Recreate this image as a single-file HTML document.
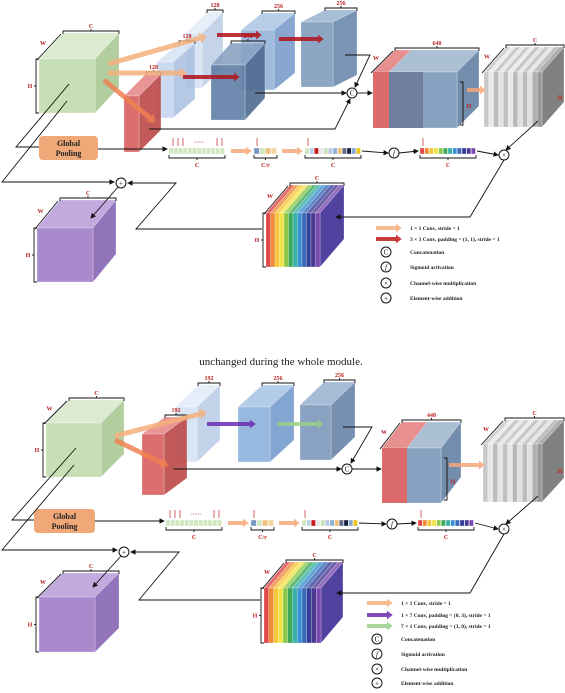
<!DOCTYPE html>
<html><head><meta charset="utf-8">
<style>
html,body{margin:0;padding:0;background:#fff;}
svg{display:block;font-family:"Liberation Serif",serif;}
</style></head>
<body>
<svg id="fig" width="565" height="693" viewBox="0 0 565 693" xmlns="http://www.w3.org/2000/svg">
<defs>
<marker id="ah" markerWidth="6" markerHeight="6" refX="5" refY="3" orient="auto"><path d="M0,0 L6,3 L0,6 z" fill="#111"/></marker>
</defs>
<text x="281" y="365" text-anchor="middle" font-size="11" fill="#222">unchanged during the whole module.</text>
</svg>
<script>
const NS='http://www.w3.org/2000/svg';
const svg=document.getElementById('fig');
function el(tag,attrs,parent){const e=document.createElementNS(NS,tag);for(const k in attrs)e.setAttribute(k,attrs[k]);(parent||svg).appendChild(e);return e;}
function grp(name){const g=el('g',{});


return g;}
function poly(g,pts,fill,op){return el('polygon',{points:pts.map(p=>p.join(',')).join(' '),fill:fill,'fill-opacity':op||1,stroke:'rgba(255,255,255,0.5)','stroke-width':0.5},g);}
function cube(name,x,y,w,h,dx,dy,front,top,side,op){
  const g=grp(name);
  poly(g,[[x,y],[x+dx,y+dy],[x+w+dx,y+dy],[x+w,y]],top,op);
  poly(g,[[x+w,y],[x+w+dx,y+dy],[x+w+dx,y+h+dy],[x+w,y+h]],side,op);
  poly(g,[[x,y],[x+w,y],[x+w,y+h],[x,y+h]],front,op);
  return g;
}
function txt(name,x,y,s,size,color,weight,anchor){
  const t=el('text',{x:x,y:y,'font-size':size||6,fill:color||'#b22','font-weight':weight||'bold','text-anchor':anchor||'middle'});
  t.textContent=s;
  
  
  return t;
}
function line(pts,arrow,color,w){
  const p=el('polyline',{points:pts.map(p=>p.join(',')).join(' '),fill:'none',stroke:color||'#111','stroke-width':w||0.9});
  if(arrow)p.setAttribute('marker-end','url(#ah)');
  
  
  return p;
}
function fatArrow(name,x1,y1,x2,y2,color,w){
  const l=el('line',{x1:x1,y1:y1,x2:x2,y2:y2,stroke:color,'stroke-width':w||4,'stroke-opacity':0.85});
  
  
  const a=Math.atan2(y2-y1,x2-x1),s=(w||4)*1.1;
  const p=el('polygon',{points:[[x2+Math.cos(a)*s*1.3,y2+Math.sin(a)*s*1.3],[x2+Math.cos(a+Math.PI/2)*s,y2+Math.sin(a+Math.PI/2)*s],[x2+Math.cos(a-Math.PI/2)*s,y2+Math.sin(a-Math.PI/2)*s]].map(p=>p.join(',')).join(' '),fill:color,'fill-opacity':0.85});
  
  
}
function circ(name,x,y,sym){
  const g=grp(name);
  el('circle',{cx:x,cy:y,r:5,fill:'#fff',stroke:'#111','stroke-width':1},g);
  const t=el('text',{x:x,y:y+2.5,'font-size':7,'text-anchor':'middle',fill:'#111','font-style':sym==='f'?'italic':'normal'},g);
  t.textContent=sym;
}
function bracketTop(x1,x2,y,label){ // horizontal brace above
  line([[x1,y+3],[x1,y],[x2,y],[x2,y+3]]);
  line([[(x1+x2)/2,y],[(x1+x2)/2,y-2]]);
  if(label)txt('channel-label',(x1+x2)/2,y-3,label,6);
}
function bracketBot(x1,x2,y,label){
  line([[x1,y-3],[x1,y],[x2,y],[x2,y-3]]);
  line([[(x1+x2)/2,y],[(x1+x2)/2,y+2]]);
  if(label)txt('channel-label',(x1+x2)/2,y+9,label,6);
}
function bracketLeft(x,y1,y2,label){
  line([[x+3,y1],[x,y1],[x,y2],[x+3,y2]]);
  line([[x,(y1+y2)/2],[x-2,(y1+y2)/2]]);
  if(label)txt('h-label',x-6,(y1+y2)/2+2,label,6);
}
function bracketDiag(x,y,dx,dy,label){
  line([[x-2,y+1],[x-2+dx,y+dy+1]]);
  if(label)txt('w-label',x+dx/2-8,y+dy/2-1,label,6);
}
function stack(name,x,y,w,h,dx,dy,colors,sideCol){
  const g=grp(name);
  const n=colors.length,sw=w/n;
  poly(g,[[x+w,y],[x+w+dx,y+dy],[x+w+dx,y+h+dy],[x+w,y+h]],sideCol,0.95);
  for(let i=0;i<n;i++){
    const x0=x+i*sw;
    poly(g,[[x0,y],[x0+dx,y+dy],[x0+sw+dx,y+dy],[x0+sw,y]],colors[i],0.8);
    el('rect',{x:x0,y:y,width:sw,height:h,fill:colors[i],stroke:'rgba(255,255,255,0.6)','stroke-width':0.4},g);
  }
}
function vec(name,x,y,w,colors){
  const g=grp(name);const n=colors.length,sw=w/n;
  for(let i=0;i<n;i++){el('rect',{x:x+i*sw,y:y-3,width:sw-0.5,height:6,fill:colors[i],stroke:'#fff','stroke-width':0.3},g);}
}
function pooling(x,y,w,h){
  const g=grp('global-pooling-box');
  el('rect',{x:x,y:y,width:w,height:h,rx:4,fill:'#f0a878'},g);
  const t1=el('text',{x:x+w/2,y:y+h/2-2,'font-size':8,'font-weight':'bold','text-anchor':'middle',fill:'#222'},g);t1.textContent='Global';
  const t2=el('text',{x:x+w/2,y:y+h/2+8,'font-size':8,'font-weight':'bold','text-anchor':'middle',fill:'#222'},g);t2.textContent='Pooling';
}
const rainbow=['#e04848','#ee8a3a','#f6c73a','#f2e24a','#8cc84a','#3ea85a','#3ab0a8','#3a90d0','#3a6ab8','#34409a','#4a3a90','#7a4ab0'];
const greens=Array(12).fill('#cfe6bf');
const greys=['#c8c8c8','#e8e8e8','#bcbcbc','#e4e4e4','#c0c0c0','#e8e8e8','#b8b8b8','#e0e0e0','#bcbcbc','#e0e0e0','#b0b0b0','#9a9a9a'];
const mixC=['#cfe6bf','#b8d0e8','#c81818','#e8e8e8','#c8e0b8','#b8c8e0','#8ab0d8','#f0c070','#606a8a','#1a2040','#88a8d0','#f0c020'];
const crV=['#7a98c0','#cfe6bf','#f0c080','#f0d8a0'];
const legendOrange='#f4b07c', legendRed='#c01818', legendPurple='#6a2ab0', legendGreen='#9ad08a';

function module(o, top){
  // green input cube
  cube('input-cube',o.g[0],o.g[1],o.g[2],o.g[3],o.g[4],o.g[5],'#c7dfb5','#dcebd0','#b2cd9e');
  bracketTop(o.g[0]+o.g[4],o.g[0]+o.g[2]+o.g[4],o.g[1]+o.g[5]-2,'C');
  bracketDiag(o.g[0],o.g[1],o.g[4],o.g[5],'W');
  bracketLeft(o.g[0]-3,o.g[1],o.g[1]+o.g[3],'H');
  // branch blocks
  o.blocks.forEach(b=>{
    cube(b.name,b.r[0],b.r[1],b.r[2],b.r[3],b.r[4],b.r[5],b.c[0],b.c[1],b.c[2],b.op||0.9);
    bracketTop(b.r[0]+b.r[4],b.r[0]+b.r[2]+b.r[4],b.r[1]+b.r[5]-2,b.label);
  });
  o.arrows.forEach(a=>fatArrow(a[0],a[1],a[2],a[3],a[4],a[5],a[6]));
  // concat block
  const k=o.cat;
  cube('concat-block',k[0],k[1],k[2],k[3],k[4],k[5],'#7f9dbd','#a8bdd3','#6c88a8',0.95);
  const g=grp('concat-red-part');
  poly(g,[[k[0],k[1]],[k[0]+k[4],k[1]+k[5]],[k[0]+o.catRed+k[4],k[1]+k[5]],[k[0]+o.catRed,k[1]]],'#e89090');
  el('rect',{x:k[0],y:k[1],width:o.catRed,height:k[3],fill:'#dc6b6b'},g);
  if(o.catMid){el('rect',{x:k[0]+o.catRed,y:k[1],width:o.catMid,height:k[3],fill:'#6a7696','fill-opacity':0.8},g);}
  bracketTop(k[0]+k[4],k[0]+k[2]+k[4],k[1]+k[5]-2,o.catLabel);
  bracketDiag(k[0],k[1],k[4],k[5],'W');
  line([[k[0]+k[2]+3,k[1]+10],[k[0]+k[2]+6,k[1]+10],[k[0]+k[2]+6,k[1]+k[3]-3],[k[0]+k[2]+3,k[1]+k[3]-3]]);
  txt('h-label',k[0]+k[2]+12,k[1]+k[3]/2+8,'H',6);
  // grey stack
  const s=o.grey;
  stack('scaled-feature-stack',s[0],s[1],s[2],s[3],s[4],s[5],greys,'#7a7a7a');
  bracketTop(s[0]+s[4],s[0]+s[2]+s[4],s[1]+s[5]-2,'C');
  bracketDiag(s[0],s[1],s[4],s[5],'W');
  txt('h-label',s[0]+s[2]+s[4]-4,s[1]+s[3]/2,'H',6);
  fatArrow('conv1x1-arrow-to-stack',k[0]+k[2]+k[4]-12,o.toGrey,s[0]-4,o.toGrey,'#f4a878',4);
  // pooling and vectors
  pooling(...o.pool);
  const vy=o.vy;
  vec('pooled-vector',o.v1,vy,56,greens);
  vec('reduced-vector',o.v2,vy,23,crV);
  vec('expanded-vector',o.v3,vy,56,mixC);
  vec('weight-vector',o.v4,vy,56,rainbow);
  bracketBot(o.v1,o.v1+56,vy+7,'C');
  bracketBot(o.v2,o.v2+23,vy+7,'C/r');
  bracketBot(o.v3,o.v3+56,vy+7,'C');
  bracketBot(o.v4,o.v4+56,vy+7,'C');
  [o.v1+4,o.v1+9,o.v1+14,o.v1+48,o.v1+53,o.v2+3,o.v3+3,o.v4+3].forEach(x=>{line([[x,vy-13],[x,vy-5]],false,'#b22',0.7);});
  txt('ellipsis',o.v1+30,vy-7,'······',5);
  fatArrow('fc-arrow-1',o.v1+62,vy,o.v2-8,vy,'#f4a878',4);
  fatArrow('fc-arrow-2',o.v2+28,vy,o.v3-8,vy,'#f4a878',4);
  line([[o.pool[0]+o.pool[2],vy-2],[o.v1-2,vy-2]],true);
  line([[o.v3+57,vy],[o.fc[0]-6,o.fc[1]]],true);
  circ('sigmoid-node',o.fc[0],o.fc[1],'f');
  line([[o.fc[0]+5,o.fc[1]],[o.v4-2,vy]],true);
  line([[o.v4+57,vy],[o.mul[0]-6,o.mul[1]]],true);
  circ('multiply-node',o.mul[0],o.mul[1],'×');
  line([[s[0]+s[2]-4,s[1]+s[3]-6],[o.mul[0]+2,o.mul[1]-5]],true);
  // rainbow
  const r=o.rb;
  stack('recalibrated-feature-stack',r[0],r[1],r[2],r[3],r[4],r[5],rainbow,'#48389a');
  bracketTop(r[0]+r[4],r[0]+r[2]+r[4],r[1]+r[5]-2,'C');
  bracketDiag(r[0],r[1],r[4],r[5],'W');
  bracketLeft(r[0]-3,r[1],r[1]+r[3],'H');
  line([[o.mul[0],o.mul[1]+5],[o.mul[0]-34,o.rbIn],[r[0]+r[2]+16,o.rbIn]],true);
  // purple output
  const p=o.pur;
  cube('output-cube',p[0],p[1],p[2],p[3],p[4],p[5],'#a98acd','#c2aadf','#9274ba');
  bracketTop(p[0]+p[4],p[0]+p[2]+p[4],p[1]+p[5]-2,'C');
  bracketDiag(p[0],p[1],p[4],p[5],'W');
  bracketLeft(p[0]-3,p[1],p[1]+p[3],'H');
  circ('add-node',o.add[0],o.add[1],'+');
  line([[o.add[0]-3,o.add[1]+4],[p[0]+p[2]-2,p[1]-10]],true);
  line([[r[0]-4,o.rbOut],[o.rbOut2,o.rbOut],[o.rbOut2+40,o.add[1]],[o.add[0]+7,o.add[1]]],true);
  // skip lines from input
  line([[o.g[0]+30,o.g[1]+25],[o.skip1[0],o.skip1[1]],[o.pool[0],o.skip1[1]]],false);
  line([[o.g[0]+28,o.g[1]+42],[o.skip2[0],o.skip2[1]],[o.add[0]-7,o.skip2[1]]],true);
  // concat lines
  o.catLines.forEach(l=>line(l,true));
  circ('concat-node',o.cc[0],o.cc[1],'C');
  line([[o.cc[0]+5,o.cc[1]],[k[0]-1,o.cc[1]]],true);
  // legend
  const L=grp('legend');
  o.legend.forEach((it,i)=>{
    const y=o.ly[i];
    if(it[0]==='arrow'){fatArrow('legend-arrow',o.lx,y,o.lx+20,y,it[1],4);}
    else{circ('legend-symbol',o.lx+10,y,it[1]);}
    const t=el('text',{x:o.lt,y:y+2,'font-size':5.5,'font-weight':'bold',fill:'#222'},L);t.textContent=it[2];
  });
}

module({
  g:[39,59,56,54,24,-26],
  blocks:[
    {name:'branch-top-128',r:[186,33,16,55,21,-21],c:['#d2e0f2','#e2ecf8','#bccde6'],label:'128',op:0.85},
    {name:'branch-top-256a',r:[241,30,33,60,21,-17],c:['#94b4da','#b0c8e6','#7c9ccc'],label:'256'},
    {name:'branch-top-256b',r:[301,22,32,65,24,-12],c:['#7f9cbe','#9fb6d2','#6a88ac'],label:'256'},
    {name:'branch-mid-128',r:[157,62,16,56,22,-19],c:['#c2d4ee','#d6e3f4','#a8bee0'],label:'128',op:0.85},
    {name:'branch-mid-256',r:[211,65,34,55,20,-22],c:['#5f7ea6','#8aa2c2','#4e6a90'],label:'256'},
    {name:'branch-red-128',r:[124,96,15,56,22,-22],c:['#d85e5e','#e88a8a','#bb4848'],label:'128'}
  ],
  arrows:[['conv1x1-arrow-a',108,64,200,38,'#f4b07c',5],['conv1x1-arrow-b',108,73,180,73,'#f4b07c',5],['conv1x1-arrow-c',104,80,150,118,'#f08050',5],
          ['conv3x3-arrow-a',183,77,234,77,'#b0101a',4],['conv3x3-arrow-b',217,35,256,35,'#b0101a',4],['conv3x3-arrow-c',279,39,318,39,'#b0101a',4]],
  cat:[373,72,84,56,22,-22],catRed:16,catMid:34,catLabel:'640',
  grey:[484,72,58,55,22,-25],toGrey:90,
  pool:[39,136,59,24],vy:151,v1:169,v2:254,v3:305,v4:420,fc:[394,153],mul:[504,155],
  rb:[266,213,54,54,24,-28],rbIn:217,rbOut:229,rbOut2:136,
  pur:[37,228,56,54,23,-28],add:[121,183],
  skip1:[16,147],skip2:[2,182],
  cc:[352,93],
  catLines:[[[345,55],[370,55],[355,87]],[[255,93],[346,93]],[[149,129],[335,129],[350,99]]],
  lx:376,lt:410,ly:[228,239,252,267,283,298],
  legend:[['arrow',legendOrange,'1 × 1 Conv, stride = 1'],['arrow',legendRed,'3 × 3 Conv, padding = (1, 1), stride = 1'],['sym','C','Concatenation'],['sym','f','Sigmoid activation'],['sym','×','Channel-wise multiplication'],['sym','+','Element-wise addition']]
});

module({
  g:[46,423,55,54,23,-23],
  blocks:[
    {name:'branch-192',r:[175,407,22,55,23,-22],c:['#d0e0f2','#e0ebf8','#b8cce6'],label:'192',op:0.85},
    {name:'branch-256a',r:[238,407,32,55,24,-22],c:['#8cb0dc','#aac6e8','#749ccc'],label:'256'},
    {name:'branch-256b',r:[300,405,31,55,24,-23],c:['#7c98ba','#9cb4d0','#6884a8'],label:'256'},
    {name:'branch-red-192',r:[142,434,22,61,23,-17],c:['#d85e5e','#e88a8a','#bb4848'],label:'192'}
  ],
  arrows:[['conv1x1-arrow-a',115,436,200,414,'#f4b07c',5],['conv1x1-arrow-c',115,440,162,463,'#f08050',5],
          ['conv1x7-arrow',207,424,250,424,'#6a2ab0',4],['conv7x1-arrow',277,424,318,424,'#9ad08a',4]],
  cat:[382,448,59,55,20,-26],catRed:25,catMid:0,catLabel:'448',
  grey:[483,444,59,58,22,-24],toGrey:465,
  pool:[34,509,61,24],vy:523,v1:166,v2:251,v3:302,v4:418,fc:[392,524],mul:[504,529],
  rb:[264,588,57,55,22,-26],rbIn:593,rbOut:600,rbOut2:139,
  pur:[39,597,56,55,24,-24],add:[124,552],
  skip1:[12,520],skip2:[2,550],
  cc:[347,469],
  catLines:[[[343,427],[372,427],[351,463]],[[173,469],[341,469]]],
  lx:367,lt:401,ly:[603,615,626,639,654,669,683],
  legend:[['arrow',legendOrange,'1 × 1 Conv, stride = 1'],['arrow',legendPurple,'1 × 7 Conv, padding = (0, 3), stride = 1'],['arrow',legendGreen,'7 × 1 Conv, padding = (3, 0), stride = 1'],['sym','C','Concatenation'],['sym','f','Sigmoid activation'],['sym','×','Channel-wise multiplication'],['sym','+','Element-wise addition']]
});
</script>
</body></html>
